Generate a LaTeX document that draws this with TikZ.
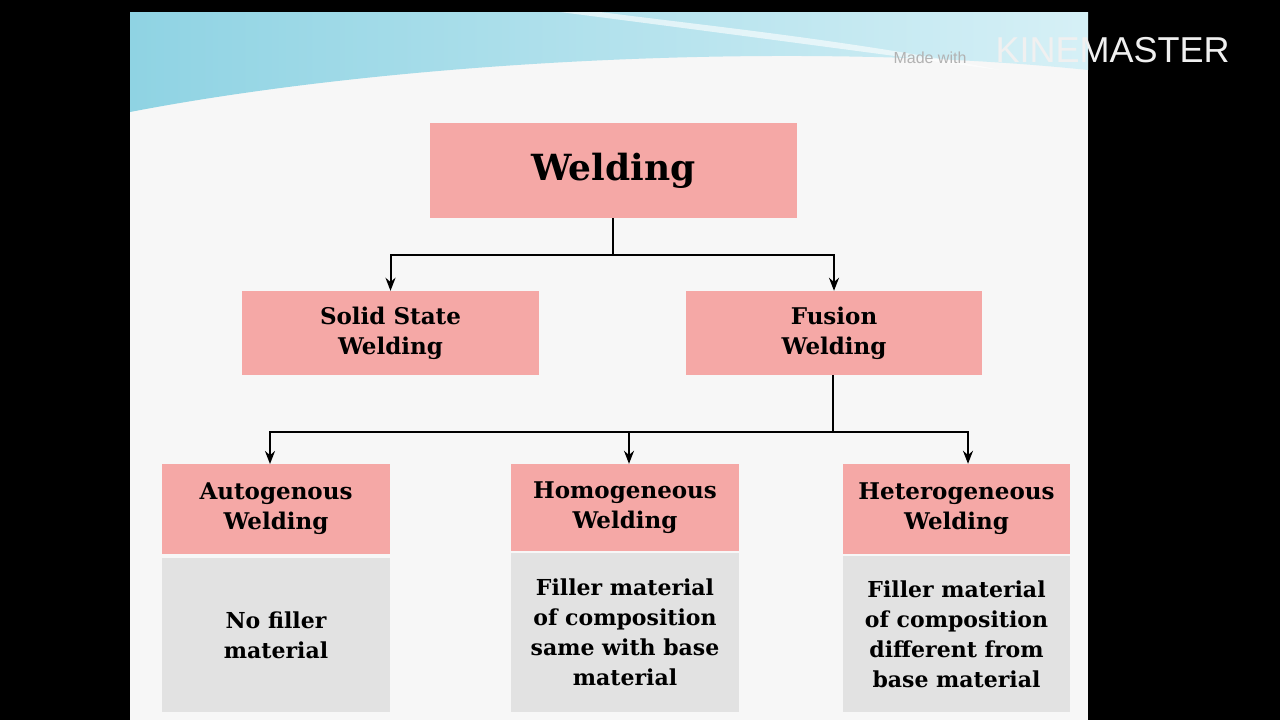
\documentclass[tikz,border=0pt]{standalone}
\usepackage{fontspec}
\setmainfont{DejaVu Serif}
\setsansfont{Liberation Sans}
\usetikzlibrary{arrows.meta}
\definecolor{pinkbox}{HTML}{F5A8A6}
\definecolor{graybox}{HTML}{E2E2E2}
\definecolor{slidebg}{HTML}{F7F7F7}
\definecolor{bannerA}{HTML}{8FD3E3}
\definecolor{bannerB}{HTML}{D6F0F6}
\tikzset{
  box/.style={draw=none,fill=pinkbox,font=\bfseries\fontsize{23}{30}\selectfont,align=center,inner sep=0pt},
  gbox/.style={draw=none,fill=graybox,font=\bfseries\fontsize{22}{30}\selectfont,align=center,inner sep=0pt},
  conn/.style={line width=2pt,-{Stealth[length=13pt,width=10pt]}},
  line/.style={line width=2pt}
}
\begin{document}
\begin{tikzpicture}[x=1pt,y=-1pt]
\useasboundingbox (0,0) rectangle (1280,720);
\fill[black] (0,0) rectangle (1280,720);
\fill[slidebg] (130,12) rectangle (1088,720);
% banner
\shade[left color=bannerA,right color=bannerB] (130,12) -- (1088,12) -- (1088,70) .. controls (800,40) and (400,60) .. (130,112) -- cycle;
\fill[white,opacity=0.6] (560,12) .. controls (700,30) and (850,50) .. (1000,70) .. controls (850,40) and (700,25) .. (600,12) -- cycle;
\node[font=\sffamily\fontsize{16}{18}\selectfont,text=gray!60,anchor=west] (made) at (890,58) {Made with};
\node[font=\sffamily\fontsize{36}{40}\selectfont,text=white!88!gray,anchor=west] (km) at (992,50) {KINEMASTER};
% boxes
\node[box,minimum width=367pt,minimum height=95pt,font=\bfseries\fontsize{36}{44}\selectfont] (w) at (613.5,170.5) {Welding};
\node[box,minimum width=297pt,minimum height=84pt] (s) at (390.5,333) {Solid State\\Welding};
\node[box,minimum width=296pt,minimum height=84pt] (f) at (834,333) {Fusion\\Welding};
\node[box,minimum width=228pt,minimum height=90pt] (a) at (276,509) {Autogenous\\Welding};
\node[box,minimum width=228pt,minimum height=87pt] (h) at (625,507.5) {Homogeneous\\Welding};
\node[box,minimum width=227pt,minimum height=90pt] (t) at (956.5,509) {Heterogeneous\\Welding};
\node[gbox,minimum width=228pt,minimum height=154pt] (ga) at (276,635) {No filler\\material};
\node[gbox,minimum width=228pt,minimum height=159pt] (gh) at (625,632.5) {Filler material\\of composition\\same with base\\material};
\node[gbox,minimum width=227pt,minimum height=156pt] (gt) at (956.5,634) {Filler material\\of composition\\different from\\base material};
% connectors
\coordinate (j1) at (613,255);
\coordinate (j2) at (833,432);
\draw[line] (w.south -| j1) -- (j1);
\draw[conn] (j1) -| (s.north);
\draw[conn] (j1) -| (f.north);
\draw[line] (f.south -| j2) -- (j2);
\draw[conn] (j2) -| (270,464) coordinate (ea);
\draw[conn] (j2) -| (t.north -| 968,0);
\draw[conn] (629,432) -- (h.north -| 629,0);
\end{tikzpicture}
\end{document}
